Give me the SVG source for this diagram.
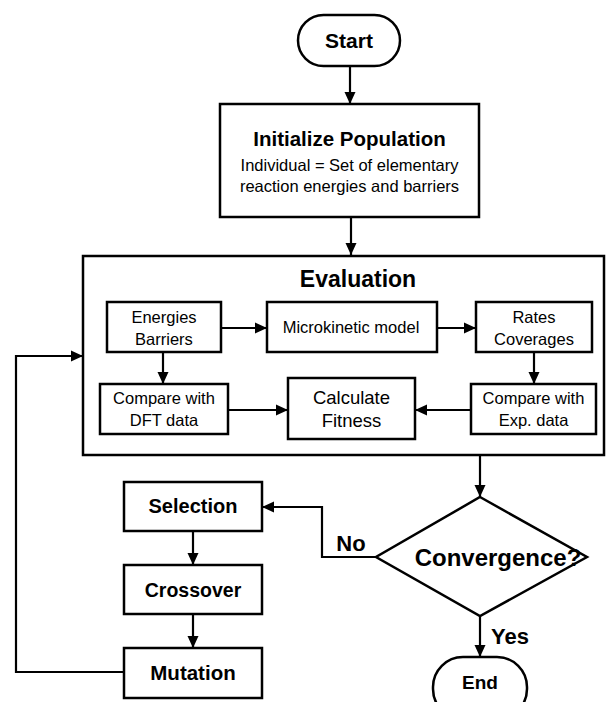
<svg xmlns="http://www.w3.org/2000/svg" width="606" height="702" viewBox="0 0 606 702">
<style>
.box{fill:#fff;stroke:#000;stroke-width:2.5}
.con{fill:none;stroke:#000;stroke-width:2.2}
.b{font-family:"Liberation Sans",Arial,sans-serif;font-weight:bold;fill:#000;text-anchor:middle}
.r{font-family:"Liberation Sans",Arial,sans-serif;fill:#000;text-anchor:middle}
</style>
<defs>
<marker id="ah" markerUnits="userSpaceOnUse" markerWidth="12" markerHeight="12" viewBox="0 0 12 12" refX="12" refY="6" orient="auto">
<path d="M0,0.5 L12,6 L0,11.5 z" fill="#000"/>
</marker>
</defs>
<rect width="606" height="702" fill="#fff"/>
<g id="start">
<rect class="box" x="298" y="15" width="102" height="51" rx="25.5"/>
<text class="b" x="349" y="48" font-size="21">Start</text>
</g>
<g id="init">
<rect class="box" x="220" y="104" width="259" height="113"/>
<text class="b" x="349.5" y="146" font-size="20.5">Initialize Population</text>
<text class="r" x="349.5" y="171" font-size="16.5">Individual = Set of elementary</text>
<text class="r" x="349.5" y="192" font-size="16.5">reaction energies and barriers</text>
</g>
<g id="evaluation">
<rect class="box" x="83" y="256" width="521" height="199" style="fill:none"/>
<text class="b" x="358" y="287" font-size="23">Evaluation</text>
</g>
<g id="energies">
<rect class="box" x="107" y="302" width="114" height="50"/>
<text class="r" x="164" y="323" font-size="16.5">Energies</text>
<text class="r" x="164" y="345" font-size="16.5">Barriers</text>
</g>
<g id="micro">
<rect class="box" x="267" y="302" width="170" height="50"/>
<text class="r" x="351" y="333" font-size="16.5">Microkinetic model</text>
</g>
<g id="rates">
<rect class="box" x="476" y="302" width="116" height="50"/>
<text class="r" x="534" y="323" font-size="16.5">Rates</text>
<text class="r" x="534" y="345" font-size="16.5">Coverages</text>
</g>
<g id="dft">
<rect class="box" x="100" y="384" width="128" height="50"/>
<text class="r" x="164" y="404" font-size="16.5">Compare with</text>
<text class="r" x="164" y="426" font-size="16.5">DFT data</text>
</g>
<g id="fitness">
<rect class="box" x="288" y="378" width="127" height="61"/>
<text class="r" x="351.5" y="404" font-size="18.5">Calculate</text>
<text class="r" x="351.5" y="427" font-size="18.5">Fitness</text>
</g>
<g id="exp">
<rect class="box" x="471" y="384" width="125" height="50"/>
<text class="r" x="533.5" y="404" font-size="16.5">Compare with</text>
<text class="r" x="533.5" y="426" font-size="16.5">Exp. data</text>
</g>
<g id="convergence">
<polygon class="box" points="480,497 587,557 480,616 376,557"/>
<text class="b" x="498" y="566" font-size="24">Convergence?</text>
</g>
<g id="selection">
<rect class="box" x="124" y="482" width="138" height="49"/>
<text class="b" x="193" y="513" font-size="20">Selection</text>
</g>
<g id="crossover">
<rect class="box" x="124" y="565" width="138" height="49"/>
<text class="b" x="193" y="597" font-size="19.5">Crossover</text>
</g>
<g id="mutation">
<rect class="box" x="124" y="648" width="138" height="50"/>
<text class="b" x="193" y="680" font-size="20.5">Mutation</text>
</g>
<g id="end">
<rect class="box" x="433" y="657" width="94" height="62" rx="30"/>
<text class="b" x="480" y="689" font-size="19">End</text>
</g>
<g id="connectors">
<path class="con" d="M350,66 V104" marker-end="url(#ah)"/>
<path class="con" d="M351,217 V255" marker-end="url(#ah)"/>
<path class="con" d="M480,455 V497" marker-end="url(#ah)"/>
<path class="con" d="M221,328 H267" marker-end="url(#ah)"/>
<path class="con" d="M437,328 H476" marker-end="url(#ah)"/>
<path class="con" d="M163,352 V384" marker-end="url(#ah)"/>
<path class="con" d="M534,352 V384" marker-end="url(#ah)"/>
<path class="con" d="M228,410 H288" marker-end="url(#ah)"/>
<path class="con" d="M471,410 H415" marker-end="url(#ah)"/>
<path class="con" d="M376,557 H322 V507 H262" marker-end="url(#ah)"/>
<path class="con" d="M480,616 V657" marker-end="url(#ah)"/>
<path class="con" d="M193,531 V565" marker-end="url(#ah)"/>
<path class="con" d="M193,614 V648" marker-end="url(#ah)"/>
<path class="con" d="M124,672 H16 V356 H83" marker-end="url(#ah)"/>
<text class="b" x="351" y="551" font-size="22">No</text>
<text class="b" x="510" y="644" font-size="22">Yes</text>
</g>
</svg>
